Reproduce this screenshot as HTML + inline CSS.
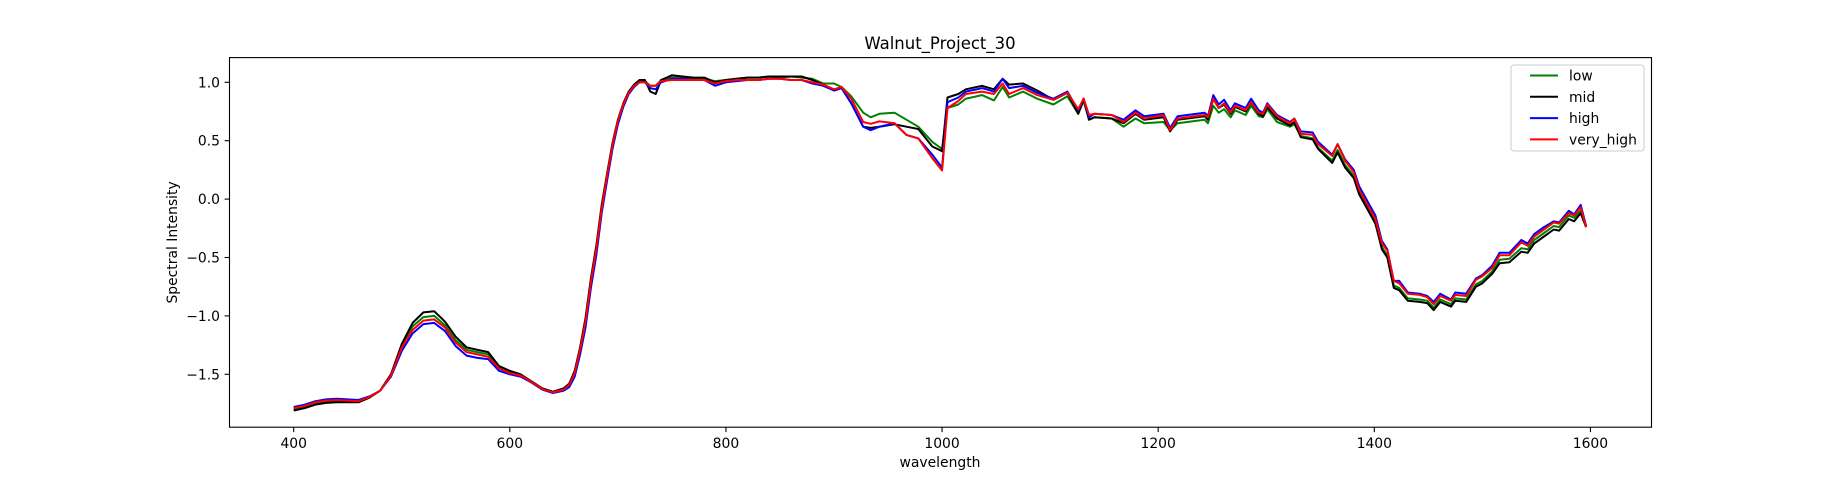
<!DOCTYPE html>
<html><head><meta charset="utf-8"><style>
html,body{margin:0;padding:0;background:#fff;}
svg{display:block;font-family:"DejaVu Sans","Liberation Sans",sans-serif;}
</style></head><body>
<svg id="chart" width="1835" height="480" viewBox="0 0 1835 480">
<rect x="0" y="0" width="1835" height="480" fill="#fff"/>
<text x="940" y="49" text-anchor="middle" font-size="16.5" fill="#000">Walnut_Project_30</text>
<g id="plot"></g>
<rect x="229.5" y="57.6" width="1422" height="369.6" fill="none" stroke="#000" stroke-width="1.1"/>
<g id="ticks"></g>
<text x="940" y="467" text-anchor="middle" font-size="13.9" fill="#000">wavelength</text>
<text x="0" y="0" transform="translate(177,242.4) rotate(-90)" text-anchor="middle" font-size="13.9" fill="#000">Spectral Intensity</text>
<g>
<rect x="1511" y="65" width="133" height="86" rx="3" fill="#fff" fill-opacity="0.8" stroke="#ccc" stroke-width="1"/>
<g id="legend-items"></g>
</g>
</svg>
<script>
const wavelengths=[400,410,420,430,440,450,460,470,480,490,500,510,520,530,540,550,560,570,580,590,600,610,620,630,640,
650,655,660,665,670,675,680,685,690,695,700,705,710,715,720,725,730,735,740,
750,760,770,780,790,800,810,820,830,840,850,860,870,880,890,900,
907,916,927,934,942,956,967,978,991,1000,
1005,1015,1022,1037,1048,1056,1062,1075,1088,1103,
1116,1126,1131,1136,1141,1157,1168,1179,1187,1205,
1211,1218,1243,1246,1251,1256,1261,1267,1271,1281,
1286,1293,1297,1301,1310,1322,1326,1332,1343,1348,
1361,1366,1373,1381,1386,1401,1407,1412,1418,1423,
1431,1442,1449,1455,1461,1471,1475,1485,1494,1500,
1509,1516,1525,1536,1542,1548,1557,1566,1571,1580,
1585,1591,1596];
const lowValues=[-1.80,-1.78,-1.75,-1.735,-1.73,-1.73,-1.735,-1.70,-1.64,-1.50,-1.26,-1.09,-1.01,-1.00,-1.08,-1.21,-1.29,-1.31,-1.33,-1.44,-1.48,-1.505,-1.56,-1.62,-1.65,
-1.62,-1.58,-1.48,-1.28,-1.03,-0.69,-0.41,-0.06,0.21,0.47,0.67,0.81,0.91,0.97,1.01,1.01,0.97,0.97,1.02,
1.04,1.04,1.03,1.03,1.01,1.02,1.03,1.04,1.04,1.05,1.04,1.05,1.04,1.03,0.99,0.99,
0.96,0.88,0.74,0.70,0.73,0.74,0.68,0.62,0.49,0.43,
0.78,0.81,0.86,0.89,0.845,0.96,0.87,0.92,0.86,0.81,
0.88,0.73,0.84,0.68,0.70,0.69,0.62,0.69,0.65,0.66,
0.59,0.65,0.68,0.65,0.80,0.74,0.77,0.70,0.76,0.72,
0.80,0.71,0.70,0.77,0.66,0.62,0.64,0.54,0.52,0.44,
0.33,0.42,0.29,0.20,0.06,-0.19,-0.41,-0.48,-0.74,-0.76,
-0.85,-0.86,-0.87,-0.93,-0.86,-0.90,-0.85,-0.86,-0.73,-0.70,
-0.62,-0.52,-0.51,-0.42,-0.43,-0.35,-0.29,-0.23,-0.24,-0.14,
-0.16,-0.10,-0.24];
const midValues=[-1.81,-1.79,-1.76,-1.745,-1.74,-1.74,-1.74,-1.70,-1.64,-1.50,-1.24,-1.06,-0.97,-0.96,-1.05,-1.18,-1.27,-1.29,-1.31,-1.43,-1.47,-1.50,-1.56,-1.62,-1.65,
-1.62,-1.58,-1.47,-1.27,-1.02,-0.68,-0.40,-0.05,0.22,0.48,0.68,0.82,0.92,0.98,1.02,1.02,0.92,0.90,1.02,
1.06,1.05,1.04,1.04,1.00,1.02,1.03,1.04,1.04,1.05,1.05,1.05,1.05,1.02,0.98,0.93,
0.95,0.82,0.62,0.61,0.62,0.64,0.62,0.60,0.45,0.41,
0.87,0.90,0.94,0.97,0.94,1.03,0.98,0.99,0.93,0.85,
0.91,0.73,0.86,0.68,0.70,0.69,0.65,0.73,0.68,0.70,
0.58,0.68,0.71,0.68,0.86,0.78,0.81,0.73,0.79,0.75,
0.83,0.73,0.71,0.79,0.69,0.63,0.66,0.53,0.51,0.43,
0.31,0.40,0.27,0.18,0.04,-0.21,-0.43,-0.50,-0.76,-0.78,
-0.87,-0.88,-0.89,-0.95,-0.88,-0.92,-0.87,-0.88,-0.75,-0.72,
-0.64,-0.55,-0.54,-0.45,-0.46,-0.38,-0.32,-0.26,-0.27,-0.17,
-0.19,-0.12,-0.24];
const highValues=[-1.78,-1.76,-1.73,-1.715,-1.71,-1.715,-1.72,-1.69,-1.64,-1.52,-1.30,-1.15,-1.07,-1.06,-1.13,-1.26,-1.34,-1.36,-1.37,-1.47,-1.50,-1.52,-1.57,-1.63,-1.66,
-1.64,-1.61,-1.52,-1.33,-1.10,-0.76,-0.48,-0.12,0.16,0.43,0.64,0.79,0.90,0.96,1.00,1.00,0.95,0.94,1.00,
1.03,1.03,1.02,1.02,0.97,1.00,1.01,1.02,1.02,1.03,1.03,1.02,1.02,0.99,0.97,0.93,
0.95,0.82,0.62,0.59,0.62,0.65,0.55,0.52,0.38,0.27,
0.83,0.87,0.92,0.95,0.92,1.03,0.95,0.97,0.91,0.86,
0.92,0.76,0.86,0.70,0.73,0.72,0.68,0.76,0.71,0.73,
0.61,0.71,0.74,0.71,0.89,0.81,0.85,0.76,0.82,0.78,
0.86,0.76,0.74,0.82,0.72,0.66,0.69,0.58,0.57,0.49,
0.38,0.47,0.34,0.25,0.11,-0.14,-0.36,-0.43,-0.70,-0.70,
-0.80,-0.81,-0.83,-0.88,-0.81,-0.86,-0.80,-0.81,-0.68,-0.65,
-0.57,-0.46,-0.46,-0.35,-0.38,-0.30,-0.24,-0.19,-0.20,-0.10,
-0.13,-0.05,-0.23];
const veryHighValues=[-1.79,-1.77,-1.74,-1.725,-1.72,-1.725,-1.73,-1.695,-1.64,-1.51,-1.27,-1.12,-1.04,-1.03,-1.10,-1.23,-1.31,-1.33,-1.35,-1.45,-1.49,-1.51,-1.565,-1.625,-1.655,
-1.63,-1.59,-1.49,-1.29,-1.05,-0.71,-0.43,-0.08,0.20,0.46,0.67,0.81,0.91,0.97,1.00,1.00,0.97,0.97,1.01,
1.02,1.02,1.02,1.02,0.99,1.01,1.02,1.02,1.02,1.03,1.03,1.02,1.02,1.00,0.98,0.94,
0.96,0.86,0.66,0.645,0.665,0.65,0.55,0.52,0.35,0.245,
0.78,0.84,0.90,0.92,0.90,0.99,0.90,0.95,0.89,0.85,
0.91,0.77,0.86,0.72,0.73,0.72,0.66,0.74,0.69,0.72,
0.59,0.69,0.72,0.70,0.86,0.78,0.82,0.74,0.80,0.76,
0.83,0.74,0.73,0.81,0.71,0.65,0.69,0.56,0.55,0.47,
0.37,0.47,0.33,0.23,0.08,-0.17,-0.38,-0.44,-0.70,-0.72,
-0.81,-0.82,-0.84,-0.90,-0.83,-0.87,-0.82,-0.83,-0.69,-0.66,
-0.59,-0.48,-0.48,-0.37,-0.40,-0.32,-0.26,-0.20,-0.21,-0.12,
-0.14,-0.07,-0.24];
const seriesNames=["low","mid","high","very_high"];
const seriesColors=["#008000","#000000","#0000ff","#ff0000"];
const xTicks=[400,600,800,1000,1200,1400,1600];
const yTicks=[1.0,0.5,0.0,-0.5,-1.0,-1.5];
const yTickLabels=["1.0","0.5","0.0","\u22120.5","\u22121.0","\u22121.5"];

const NS="http://www.w3.org/2000/svg";
function xScale(w){return 293.7+(w-400)*1.0806;}
function yScale(v){return 82.3-(v-1)*116.8;}
const plot=document.getElementById('plot');
const allSeries=[lowValues,midValues,highValues,veryHighValues];
allSeries.forEach(function(vals,i){
  const pts=wavelengths.map(function(w,j){return xScale(w).toFixed(1)+","+yScale(vals[j]).toFixed(1);}).join(" ");
  const pl=document.createElementNS(NS,'polyline');
  pl.setAttribute('points',pts);
  pl.setAttribute('fill','none');
  pl.setAttribute('stroke',seriesColors[i]);
  pl.setAttribute('stroke-width','2');
  pl.setAttribute('stroke-linejoin','round');
  
  
  plot.appendChild(pl);
});
const ticks=document.getElementById('ticks');
xTicks.forEach(function(t){
  const x=xScale(t);
  const l=document.createElementNS(NS,'line');
  l.setAttribute('x1',x);l.setAttribute('x2',x);l.setAttribute('y1',427.2);l.setAttribute('y2',432.1);
  l.setAttribute('stroke','#000');l.setAttribute('stroke-width','1.1');
  
  
  ticks.appendChild(l);
  const tx=document.createElementNS(NS,'text');
  tx.setAttribute('x',x);tx.setAttribute('y',448);tx.setAttribute('text-anchor','middle');tx.setAttribute('font-size','13.9');
  tx.textContent=String(t);
  
  
  ticks.appendChild(tx);
});
yTicks.forEach(function(t,i){
  const y=yScale(t);
  const l=document.createElementNS(NS,'line');
  l.setAttribute('x1',224.6);l.setAttribute('x2',229.5);l.setAttribute('y1',y);l.setAttribute('y2',y);
  l.setAttribute('stroke','#000');l.setAttribute('stroke-width','1.1');
  
  
  ticks.appendChild(l);
  const tx=document.createElementNS(NS,'text');
  tx.setAttribute('x',220);tx.setAttribute('y',y+5);tx.setAttribute('text-anchor','end');tx.setAttribute('font-size','13.9');
  tx.textContent=yTickLabels[i];
  
  
  ticks.appendChild(tx);
});
const leg=document.getElementById('legend-items');
seriesNames.forEach(function(n,i){
  const y=75.5+i*21.3;
  const l=document.createElementNS(NS,'line');
  l.setAttribute('x1',1530);l.setAttribute('x2',1558);l.setAttribute('y1',y);l.setAttribute('y2',y);
  l.setAttribute('stroke',seriesColors[i]);l.setAttribute('stroke-width','2');
  
  
  leg.appendChild(l);
  const tx=document.createElementNS(NS,'text');
  tx.setAttribute('x',1569);tx.setAttribute('y',y+5);tx.setAttribute('font-size','13.9');
  tx.textContent=n;
  
  
  leg.appendChild(tx);
});
</script>
</body></html>
